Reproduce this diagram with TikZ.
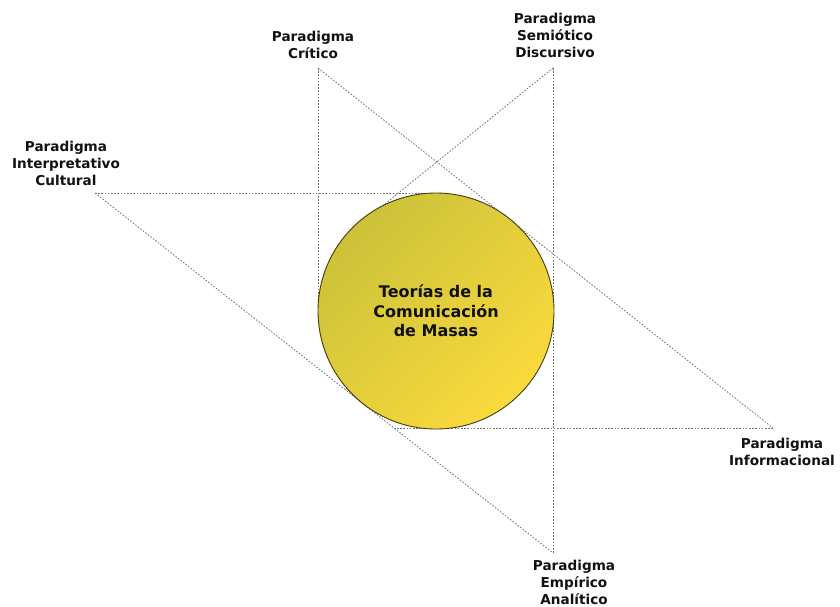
\documentclass[tikz,border=0pt]{standalone}
\usepackage{fontspec}
\setmainfont{DejaVu Sans}
\usetikzlibrary{positioning}

\definecolor{olivo}{RGB}{204,194,58}
\definecolor{amarillo}{RGB}{250,218,60}
\definecolor{borde}{RGB}{70,58,12}
\definecolor{punteado}{RGB}{115,115,115}
\definecolor{texto}{RGB}{17,17,17}

\tikzset{
  paradigma/.style={align=center, font=\bfseries\fontsize{13.6}{17}\selectfont, text=texto, inner sep=0pt},
  enlace/.style={draw=punteado, dash pattern=on 1.6pt off 1.6pt, line width=0.8pt},
  centro/.style={circle, draw=borde, line width=0.9pt, minimum size=236pt, inner sep=0pt,
    top color=olivo, bottom color=amarillo, shading angle=45,
    align=center, font=\bfseries\fontsize{16}{19.5}\selectfont, text=texto}
}

\begin{document}
\begin{tikzpicture}[x=1pt,y=-1pt]
\useasboundingbox (0,0) rectangle (840,606);

% Vertices
\coordinate (v-critico) at (318,68);
\coordinate (v-semiotico) at (553,68);
\coordinate (v-interpretativo) at (95,193);
\coordinate (v-informacional) at (773,428);
\coordinate (v-empirico) at (553,553);
\coordinate (fin-semiotico) at (365,220);
\coordinate (fin-informacional) at (395,428);

% Labels
\node[paradigma] (critico) at (313,45) {Paradigma\\Crítico};
\node[paradigma] (semiotico) at (555,35) {Paradigma\\Semiótico\\Discursivo};
\node[paradigma] (interpretativo) at (66,163) {Paradigma\\Interpretativo\\Cultural};
\node[paradigma] (informacional) at (782,452) {Paradigma\\Informacional};
\node[paradigma] (empirico) at (574,582) {Paradigma\\Empírico\\Analítico};

% Dotted lines
\draw[enlace] (v-critico) -- (318,311);
\draw[enlace] (v-critico) -- (v-informacional);
\draw[enlace] (v-informacional) -- (fin-informacional);
\draw[enlace] (v-semiotico) -- (v-empirico);
\draw[enlace] (v-semiotico) -- (fin-semiotico);
\draw[enlace] (v-interpretativo) -- (436,193);
\draw[enlace] (v-interpretativo) -- (v-empirico);

% Circle
\node[centro] (teorias) at (436,311) {Teorías de la\\Comunicación\\de Masas};

\end{tikzpicture}
\end{document}
